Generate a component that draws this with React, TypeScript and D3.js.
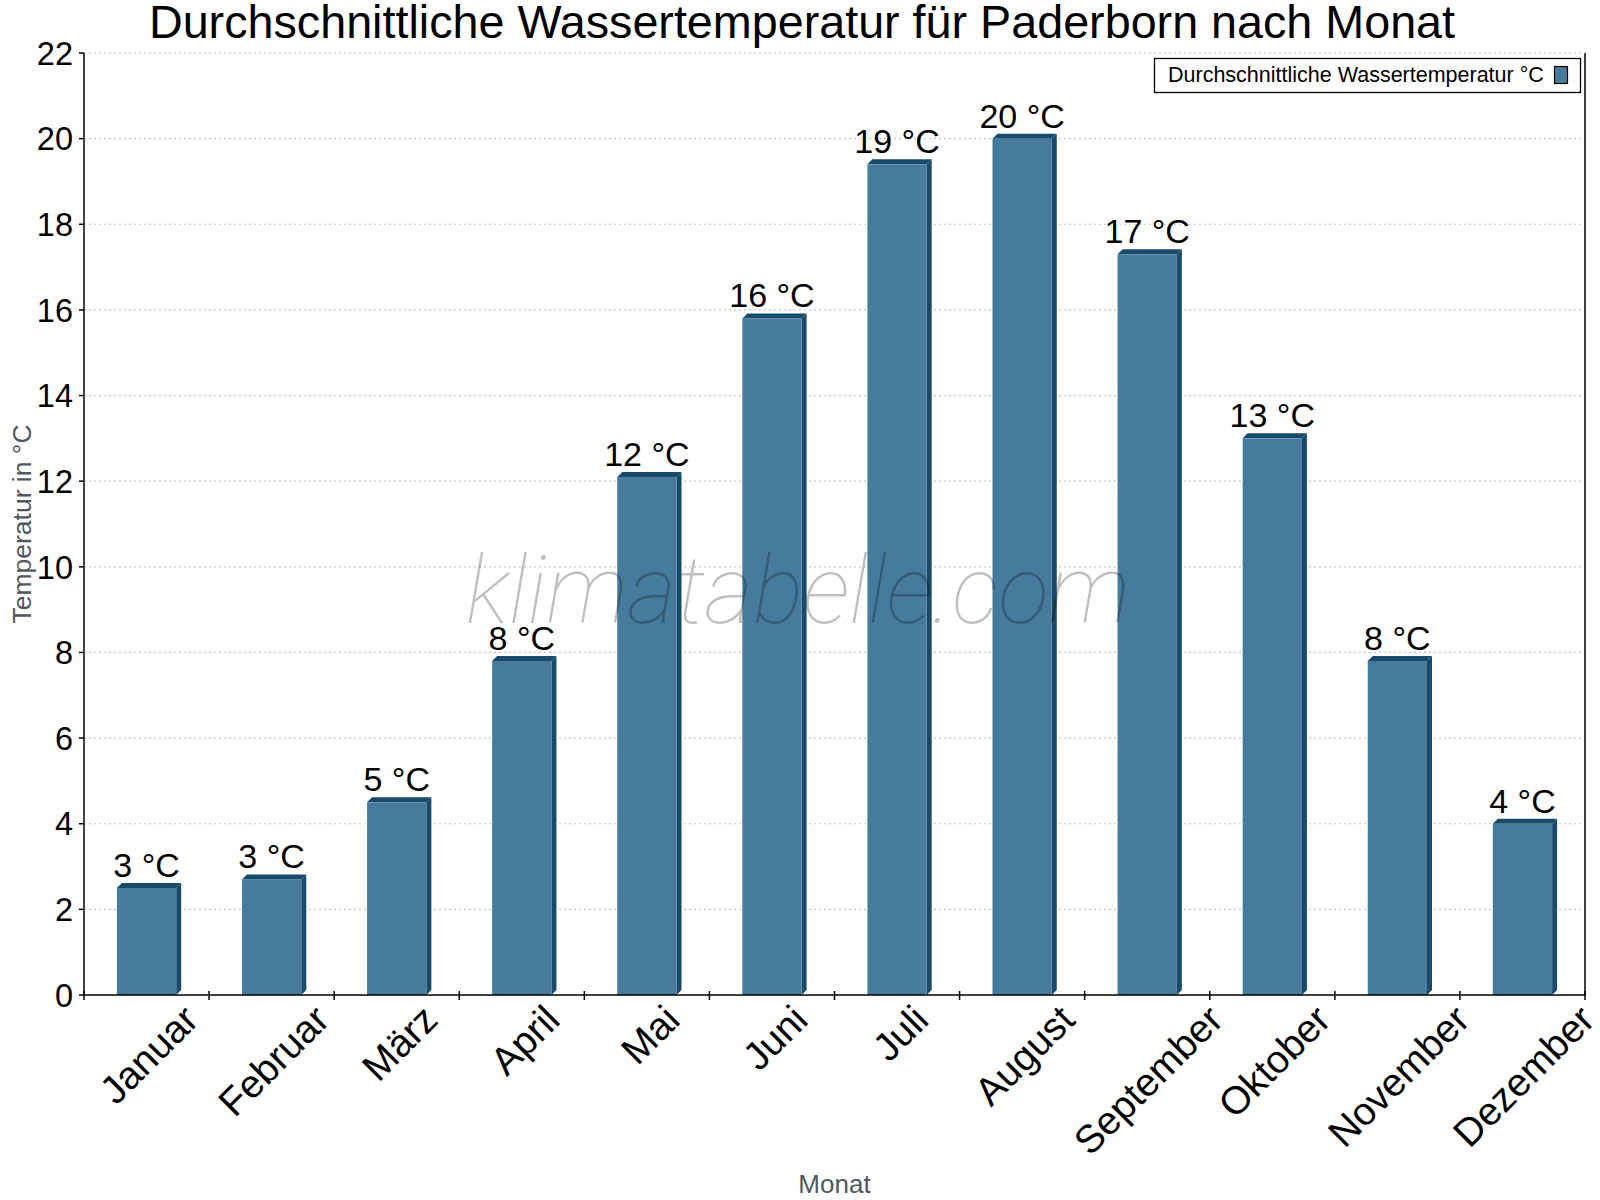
import React, { useEffect, useRef } from "react";
import * as d3 from "d3";

// Wassertemperatur Paderborn, Monatsmittel
const months = [
  "Januar", "Februar", "März", "April", "Mai", "Juni",
  "Juli", "August", "September", "Oktober", "November", "Dezember",
];
const waterTemp = [2.5, 2.7, 4.5, 7.8, 12.1, 15.8, 19.4, 20.0, 17.3, 13.0, 7.8, 4.0];
const yTicks = [0, 2, 4, 6, 8, 10, 12, 14, 16, 18, 20, 22];

const title = "Durchschnittliche Wassertemperatur für Paderborn nach Monat";
const legendLabel = "Durchschnittliche Wassertemperatur °C";

const App = () => {
  const svgRef = useRef<SVGSVGElement | null>(null);

  useEffect(() => {
    document.body.style.margin = "0";
    const width = 1600;
    const height = 1200;
    const margin = { top: 53, right: 15, bottom: 205, left: 84 };
    const font = "'Liberation Sans', Arial, sans-serif";
    const front = "#467b9d";
    const dark = "#184b6b";
    const depth = 5;

    const svg = d3.select(svgRef.current);
    svg.selectAll("*").remove();
    svg.attr("width", width).attr("height", height).style("font-family", font);

    svg.append("rect").attr("width", width).attr("height", height).attr("fill", "white");

    const x = d3
      .scaleBand<string>()
      .domain(months)
      .range([margin.left, width - margin.right]);
    const y = d3
      .scaleLinear()
      .domain([0, 22])
      .range([height - margin.bottom, margin.top]);

    const x0 = margin.left;
    const x1 = width - margin.right;
    const y0 = y(0);

    // grid
    svg
      .append("g")
      .selectAll("line")
      .data(yTicks.filter((t) => t > 0))
      .join("line")
      .attr("x1", x0)
      .attr("x2", x1 - 4)
      .attr("y1", (d) => y(d))
      .attr("y2", (d) => y(d))
      .attr("stroke", "#c4c4c4")
      .attr("stroke-width", 1.2)
      .attr("stroke-dasharray", "2,3");

    // bars (pseudo 3D)
    const bw = x.bandwidth() * 0.474;
    const bars = svg.append("g");
    months.forEach((m, i) => {
      const cx = x(m)! + x.bandwidth() / 2;
      const l = cx - bw / 2;
      const r = cx + bw / 2;
      const top = y(waterTemp[i]);
      bars
        .append("polygon")
        .attr("points", [[l, top], [l + depth, top - depth], [r + depth, top - depth], [r, top]].join(" "))
        .attr("fill", dark);
      bars
        .append("polygon")
        .attr("points", [[r, top], [r + depth, top - depth], [r + depth, y0 - depth], [r, y0]].join(" "))
        .attr("fill", dark);
      bars
        .append("rect")
        .attr("x", l)
        .attr("y", top)
        .attr("width", bw)
        .attr("height", y0 - top)
        .attr("fill", front);
      bars
        .append("text")
        .attr("x", cx)
        .attr("y", top - depth - 6)
        .attr("text-anchor", "middle")
        .attr("font-size", 34)
        .attr("fill", "#000")
        .text(`${Math.round(waterTemp[i])} °C`);
    });

    // watermark
    svg
      .append("text")
      .attr("x", 798)
      .attr("y", 623)
      .attr("text-anchor", "middle")
      .attr("font-family", "Roboto, sans-serif")
      .attr("font-style", "italic")
      .attr("font-weight", 100)
      .attr("font-size", 94)
      .attr("fill", "#000")
      .attr("fill-opacity", 0.25)
      .text("klimatabelle.com");

    // axes
    const ax = svg.append("g").attr("stroke", "#000").attr("stroke-width", 1.5);
    ax.append("line").attr("x1", x0).attr("x2", x0).attr("y1", margin.top).attr("y2", y0);
    ax.append("line").attr("x1", x1).attr("x2", x1).attr("y1", margin.top).attr("y2", y0);
    ax.append("line").attr("x1", x0).attr("x2", x1).attr("y1", y0).attr("y2", y0);
    ax.selectAll(".yt")
      .data(yTicks)
      .join("line")
      .attr("x1", x0 - 5)
      .attr("x2", x0)
      .attr("y1", (d) => y(d))
      .attr("y2", (d) => y(d));
    ax.selectAll(".xt")
      .data(d3.range(months.length + 1))
      .join("line")
      .attr("x1", (i) => x0 + i * x.step())
      .attr("x2", (i) => x0 + i * x.step())
      .attr("y1", y0 - 4)
      .attr("y2", y0 + 5);

    svg
      .append("g")
      .selectAll("text")
      .data(yTicks)
      .join("text")
      .attr("x", x0 - 11)
      .attr("y", (d) => y(d))
      .attr("dy", "0.36em")
      .attr("text-anchor", "end")
      .attr("font-size", 32.5)
      .text((d) => d);

    // rotated month labels
    const xl = svg.append("g");
    months.forEach((m) => {
      const cx = x(m)! + x.bandwidth() / 2;
      const t = xl.append("text").attr("font-size", 39).attr("text-anchor", "end").text(m);
      const w = (t.node() as SVGTextElement).getComputedTextLength();
      const ex = cx + w * 0.335 + 14;
      const ey = 1022;
      t.attr("transform", `translate(${ex},${ey}) rotate(-45)`);
    });

    // axis titles
    svg
      .append("text")
      .attr("x", (x0 + x1) / 2)
      .attr("y", 1193)
      .attr("text-anchor", "middle")
      .attr("font-size", 26)
      .attr("fill", "#50575e")
      .text("Monat");
    svg
      .append("text")
      .attr("transform", `translate(31,${(margin.top + y0) / 2}) rotate(-90)`)
      .attr("text-anchor", "middle")
      .attr("font-size", 26.5)
      .attr("fill", "#50575e")
      .text("Temperatur in °C");

    // title
    svg
      .append("text")
      .attr("x", 802)
      .attr("y", 38)
      .attr("text-anchor", "middle")
      .attr("font-size", 46.7)
      .attr("fill", "#000")
      .text(title);

    // legend
    const lg = svg.append("g");
    lg.append("rect")
      .attr("x", 1154.5)
      .attr("y", 58.5)
      .attr("width", 426)
      .attr("height", 34)
      .attr("fill", "white")
      .attr("stroke", "#000")
      .attr("stroke-width", 1.3);
    lg.append("text")
      .attr("x", 1168)
      .attr("y", 82)
      .attr("font-size", 21.5)
      .text(legendLabel);
    lg.append("rect")
      .attr("x", 1554.5)
      .attr("y", 66.5)
      .attr("width", 13)
      .attr("height", 17)
      .attr("fill", front)
      .attr("stroke", "#000")
      .attr("stroke-width", 1.2);
  }, []);

  return <svg ref={svgRef}></svg>;
};

export default App;
